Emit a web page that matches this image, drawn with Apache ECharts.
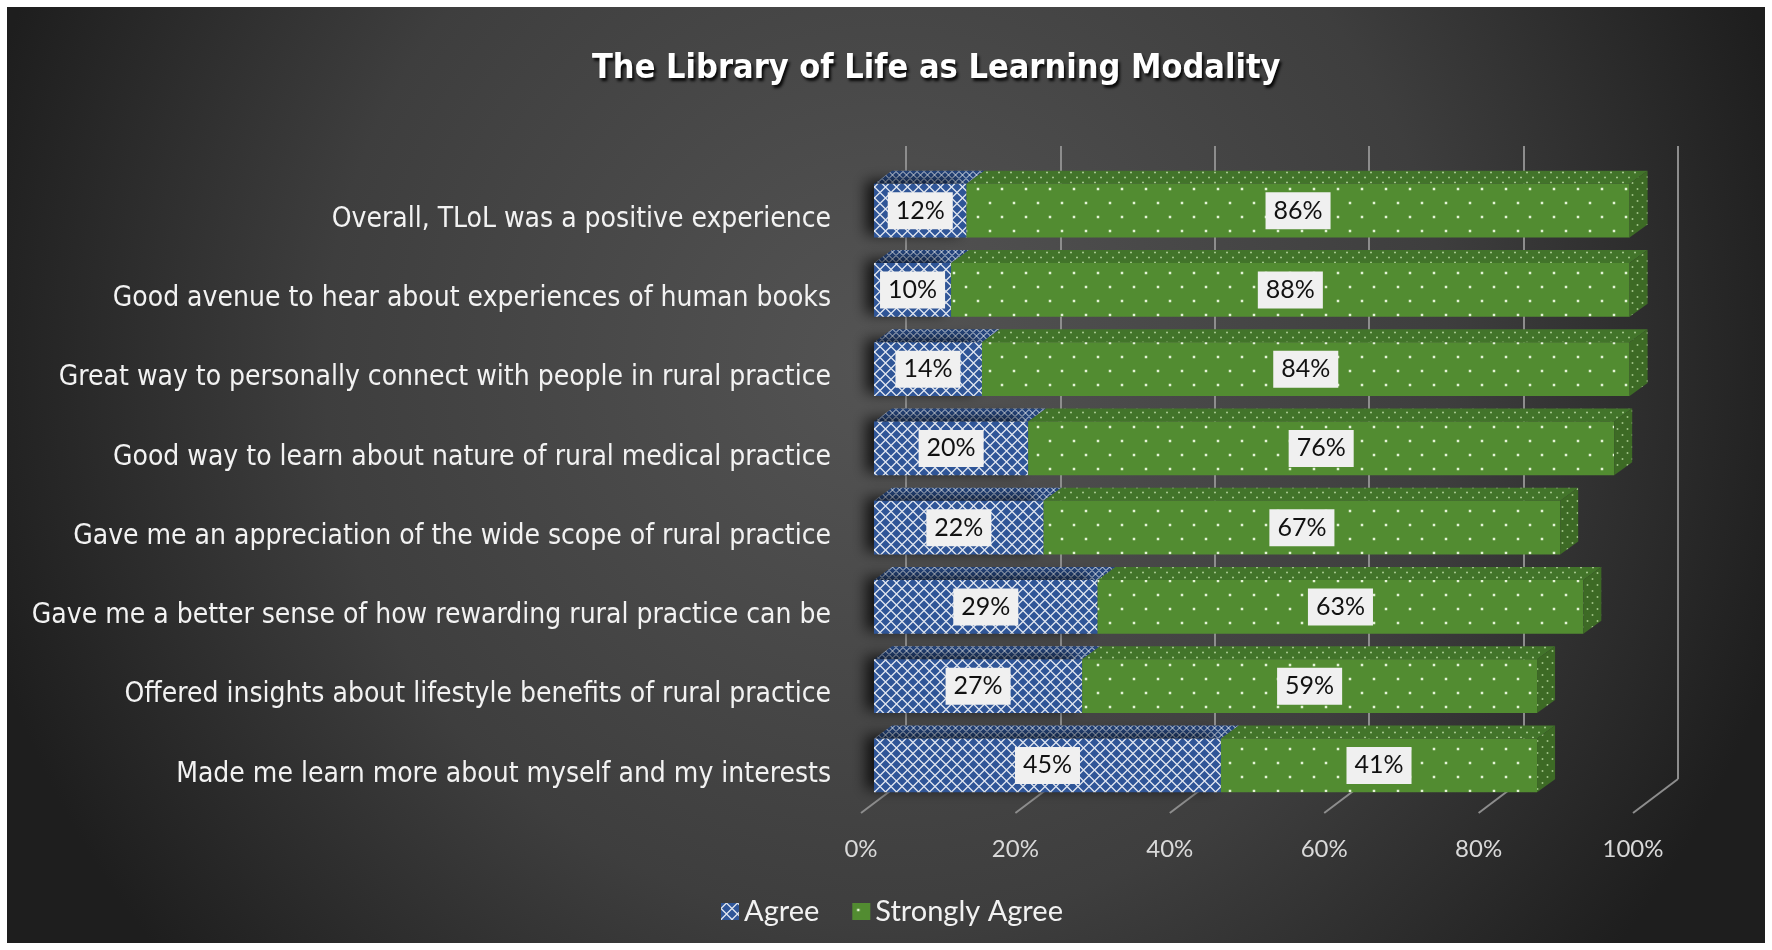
<!DOCTYPE html>
<html>
<head>
<meta charset="utf-8">
<title>The Library of Life as Learning Modality</title>
<script src="https://cdn.jsdelivr.net/npm/echarts@6/dist/echarts.min.js"></script>
<style>
  html, body { margin: 0; padding: 0; background: #fff; }
  #main { width: 1772px; height: 950px; }
</style>
</head>
<body>
<div id="main"></div>
<script>
// data
var categories = [
  'Overall, TLoL was a positive experience',
  'Good avenue to hear about experiences of human books',
  'Great way to personally connect with people in rural practice',
  'Good way to learn about nature of rural medical practice',
  'Gave me an appreciation of the wide scope of rural practice',
  'Gave me a better sense of how rewarding rural practice can be',
  'Offered insights about lifestyle benefits of rural practice',
  'Made me learn more about myself and my interests'
];
var agree = [12, 10, 14, 20, 22, 29, 27, 45];
var stronglyAgree = [86, 88, 84, 76, 67, 63, 59, 41];
var ticks = [0, 20, 40, 60, 80, 100];

var narrow = "'Liberation Sans Narrow', 'DejaVu Sans Condensed', sans-serif";
var labelFont = "Lato, 'Noto Sans', sans-serif";

// fill patterns (excel style)
function lattice(bg, s, lw) {
  var c = document.createElement('canvas');
  c.width = s; c.height = s;
  var ctx = c.getContext('2d');
  ctx.fillStyle = bg; ctx.fillRect(0, 0, s, s);
  ctx.strokeStyle = 'rgba(255,255,255,0.85)';
  ctx.lineWidth = lw;
  ctx.beginPath();
  ctx.moveTo(0, s / 2); ctx.lineTo(s / 2, 0); ctx.lineTo(s, s / 2); ctx.lineTo(s / 2, s); ctx.closePath();
  ctx.stroke();
  return { image: c, repeat: 'repeat' };
}
function dots(bg, w, h, r, col) {
  var c = document.createElement('canvas');
  c.width = w; c.height = h;
  var ctx = c.getContext('2d');
  ctx.fillStyle = bg; ctx.fillRect(0, 0, w, h);
  ctx.fillStyle = col;
  ctx.fillRect(w * 0.25 - r / 2, h * 0.25 - r / 2, r, r);
  ctx.fillRect(w * 0.75 - r / 2, h * 0.75 - r / 2, r, r);
  return { image: c, repeat: 'repeat' };
}

var blueFront = lattice('#2f5597', 11, 1.3);
var blueTop = lattice('#26467e', 7, 1);
var greenFront = dots('#528c31', 24, 28, 2.5, '#e4f3d6');
var greenTop = dots('#42742a', 12, 10, 1.6, '#b9d9a2');
var greenSide = dots('#3d6a25', 10, 12, 1.6, '#b0d296');

var DX = 18, DY = -13;

function bar3d(front, top, side, withSide, withShadow) {
  return function (params, api) {
    var v = api.value(0), ci = api.value(1), base = api.value(2);
    var p0 = api.coord([base, ci]);
    var p1 = api.coord([base + v, ci]);
    var h = api.size([0, 1])[1] * 0.68;
    var x0 = p0[0], x1 = p1[0];
    var yT = p0[1] - h / 2, yB = p0[1] + h / 2;
    var children = [
      {
        type: 'polygon',
        shape: { points: [[x0, yT], [x1, yT], [x1 + DX, yT + DY], [x0 + DX, yT + DY]] },
        style: { fill: top }
      },
      {
        type: 'rect',
        shape: { x: x0, y: yT, width: x1 - x0, height: h },
        style: withShadow ? {
          fill: front, shadowBlur: 14, shadowColor: 'rgba(0,0,0,0.75)', shadowOffsetX: -8, shadowOffsetY: -3
        } : { fill: front }
      }
    ];
    if (withSide) {
      children.push({
        type: 'polygon',
        shape: { points: [[x1, yT], [x1 + DX, yT + DY], [x1 + DX, yB + DY], [x1, yB]] },
        style: { fill: side }
      });
    }
    children.push({
      type: 'text',
      x: (x0 + x1) / 2,
      y: p0[1],
      style: {
        text: v + '%',
        fill: '#111',
        fontSize: 25,
        fontFamily: labelFont,
        align: 'center',
        verticalAlign: 'middle',
        backgroundColor: '#f0f0f0',
        padding: [7, 8, 5, 8]
      }
    });
    return { type: 'group', children: children };
  };
}

var myChart = echarts.init(document.getElementById('main'));

var option = {
  backgroundColor: '#ffffff',
  animation: false,
  title: {
    text: 'The Library of Life as Learning Modality',
    left: 587,
    top: 47,
    textStyle: {
      color: '#ffffff',
      fontSize: 34,
      fontWeight: 'bold',
      fontFamily: narrow,
      textShadowColor: 'rgba(0,0,0,0.9)',
      textShadowBlur: 3,
      textShadowOffsetX: 2,
      textShadowOffsetY: 3
    }
  },
  graphic: [{
    type: 'rect',
    z: -100,
    silent: true,
    shape: { x: 7, y: 7, width: 1758, height: 936 },
    style: {
      fill: {
        type: 'radial', x: 0.5, y: 0.38, r: 1.0,
        colorStops: [
          { offset: 0, color: '#545454' },
          { offset: 0.6, color: '#3e3e3e' },
          { offset: 1, color: '#1e1e1e' }
        ]
      }
    }
  }],
  legend: {
    data: ['Agree', 'Strongly Agree'],
    left: 716,
    top: 892,
    icon: 'rect',
    itemWidth: 18,
    itemHeight: 17,
    itemGap: 33,
    textStyle: { color: '#f2f2f2', fontSize: 29, fontFamily: labelFont }
  },
  grid: [
    { left: 874, width: 771, top: 171, height: 634, containLabel: false, outerBoundsMode: 'none' },  // bars
    { left: 906, width: 772, top: 146, height: 633, containLabel: false, outerBoundsMode: 'none' },  // back wall
    { left: 861, width: 772, top: 146, height: 667, containLabel: false, outerBoundsMode: 'none' }   // floor labels
  ],
  xAxis: [
    { gridIndex: 0, type: 'value', min: 0, max: 100, show: false },
    {
      gridIndex: 1, type: 'value', min: 0, max: 100, interval: 20,
      axisLine: { show: false }, axisTick: { show: false }, axisLabel: { show: false },
      splitLine: { show: true, lineStyle: { color: '#8d8d8d', width: 2 } }
    },
    {
      gridIndex: 2, type: 'value', min: 0, max: 100, interval: 20,
      axisLine: { show: false }, axisTick: { show: false }, splitLine: { show: false },
      axisLabel: {
        formatter: '{value}%', color: '#d9d9d9', fontSize: 24, fontFamily: labelFont, margin: 24
      }
    }
  ],
  yAxis: [
    {
      gridIndex: 0, type: 'category', data: categories, inverse: true,
      axisLine: { show: false }, axisTick: { show: false },
      axisLabel: {
        color: '#f2f2f2', fontSize: 28, fontFamily: narrow, margin: 43,
        verticalAlign: 'top', lineHeight: 18
      }
    },
    { gridIndex: 1, type: 'value', min: 0, max: 1, show: false },
    { gridIndex: 2, type: 'value', min: 0, max: 1, show: false }
  ],
  series: [
    {
      name: 'Agree',
      type: 'custom',
      xAxisIndex: 0, yAxisIndex: 0,
      itemStyle: { color: blueFront },
      encode: { x: 0, y: 1 },
      data: agree.map(function (v, i) { return [v, i, 0]; }),
      renderItem: bar3d(blueFront, blueTop, null, false, true),
      z: 3
    },
    {
      name: 'Strongly Agree',
      type: 'custom',
      xAxisIndex: 0, yAxisIndex: 0,
      itemStyle: { color: greenFront },
      encode: { x: 0, y: 1 },
      data: stronglyAgree.map(function (v, i) { return [v, i, agree[i]]; }),
      renderItem: bar3d(greenFront, greenTop, greenSide, true, false),
      z: 4
    },
    {
      // floor lines running forward from the back wall
      name: 'floor',
      type: 'custom',
      xAxisIndex: 1, yAxisIndex: 1,
      silent: true,
      encode: { x: 0, y: 1 },
      data: ticks.map(function (t) { return [t, 0]; }),
      renderItem: function (params, api) {
        var p = api.coord([api.value(0), 0]);
        return {
          type: 'line',
          shape: { x1: p[0], y1: p[1], x2: p[0] - 45, y2: p[1] + 34 },
          style: { stroke: '#8d8d8d', lineWidth: 2 }
        };
      },
      z: 1
    }
  ]
};
myChart.setOption(option);
</script>
</body>
</html>
